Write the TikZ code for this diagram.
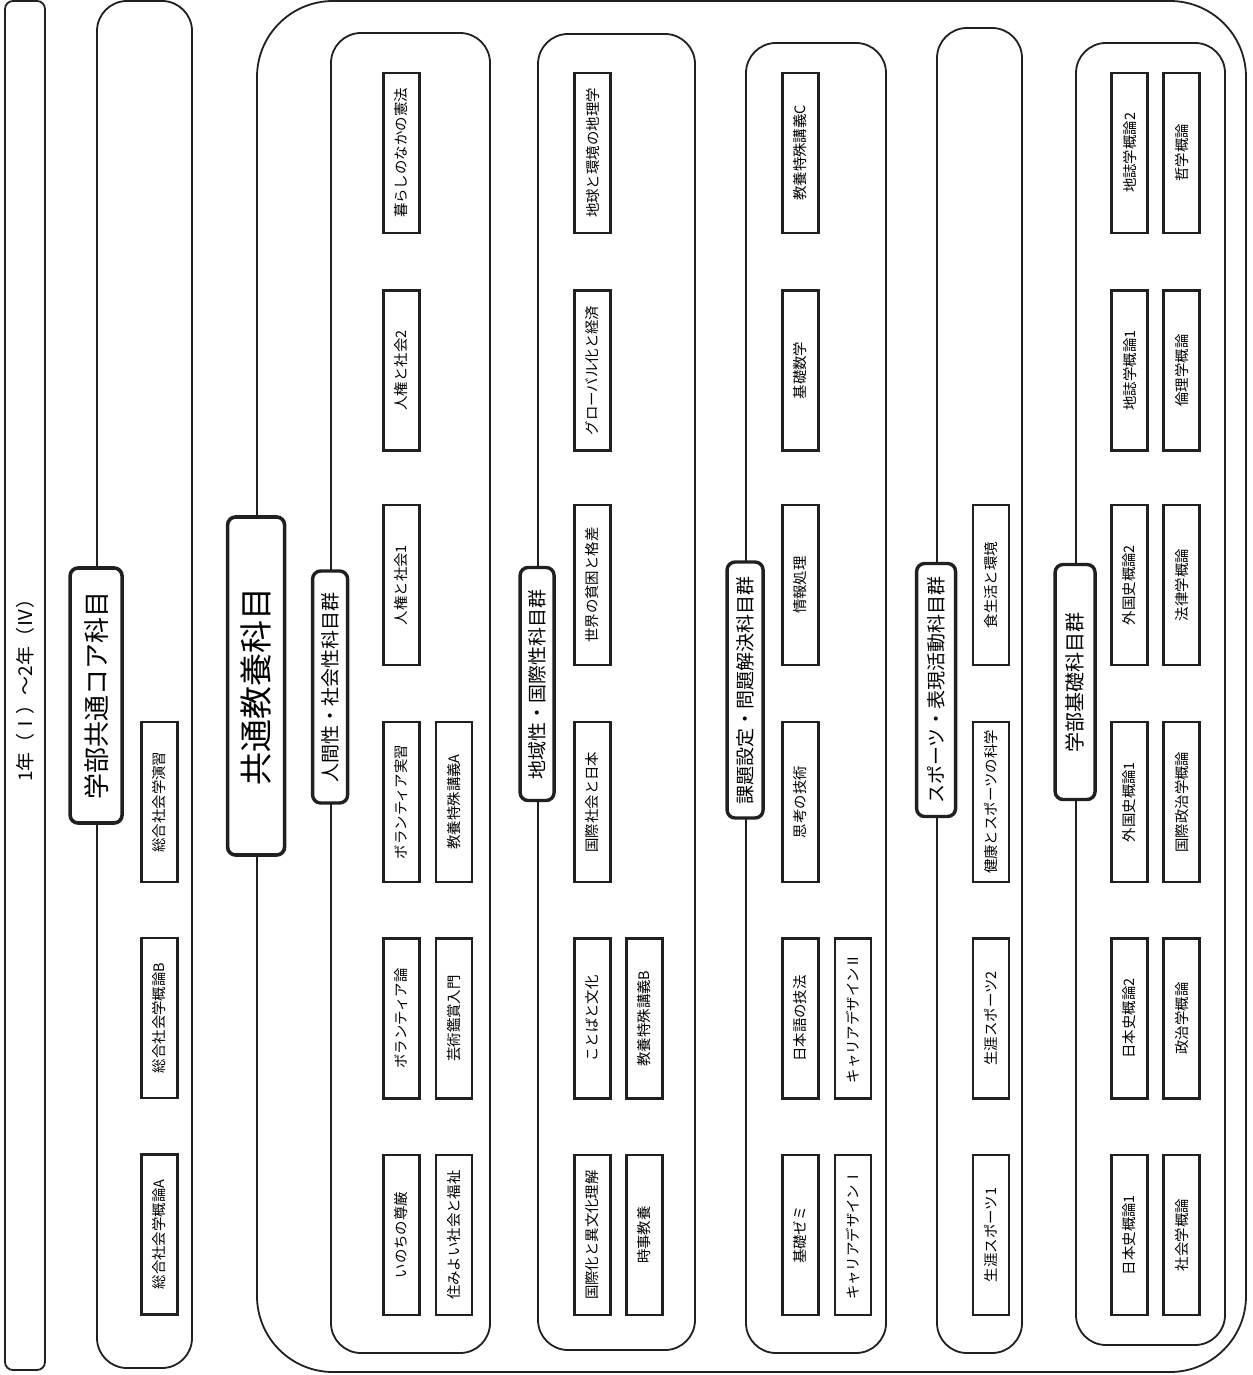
\documentclass[tikz,border=0pt]{standalone}
\usepackage{fontspec}
\usepackage{xcolor}
\usepackage{tikz}
\newfontfamily\jpfont{Noto Sans CJK JP}
\definecolor{CurInk}{HTML}{231F20}

\begin{document}
\begin{tikzpicture}[x=0.5pt,y=-0.5pt,
  band/.style={draw=CurInk,line width=0.9pt,inner sep=0pt},
  grp/.style={band,rounded corners=15pt},
  hd/.style={draw=CurInk,fill=white,line width=1.7pt,rounded corners=4pt,rotate=90,inner sep=0pt,font=\jpfont\fontsize{9.5}{10}\selectfont},
  subj/.style={draw=CurInk,fill=white,line width=1.3pt,rotate=90,inner sep=0pt,minimum width=80pt,minimum height=18pt,font=\jpfont\fontsize{7.2}{8}\selectfont}
]
\useasboundingbox (0,0) rectangle (1252,1375);

\node[band,rounded corners=4pt,rotate=90,minimum width=684.5pt,minimum height=20pt,font=\jpfont\fontsize{9.5}{10}\selectfont] (period) at (25,685.5) {1年（Ⅰ）～2年（Ⅳ）};
\node[grp,minimum width=47.5pt,minimum height=683.5pt] (coreband) at (144.5,684.5) {};
\node[grp,rounded corners=38pt,minimum width=494.5pt,minimum height=685.5pt] (edu) at (751.5,686.5) {};
\node[grp,minimum width=79.5pt,minimum height=660pt] (human) at (410.5,693) {};
\node[grp,minimum width=78.5pt,minimum height=658pt] (region) at (616.5,692) {};
\node[grp,minimum width=70pt,minimum height=655pt] (problem) at (816,698) {};
\node[grp,minimum width=42.5pt,minimum height=662.5pt] (sports) at (979.5,690.5) {};
\node[grp,minimum width=74.5pt,minimum height=651pt] (faculty) at (1150.5,694) {};

\node[hd,line width=1.8pt,minimum width=127.5pt,minimum height=26pt,font=\jpfont\fontsize{13}{14}\selectfont] (coreh) at (coreband.west |- 0,695.5) {学部共通コア科目};
\node[hd,line width=1.8pt,minimum width=169pt,minimum height=28.5pt,font=\jpfont\fontsize{16.5}{18}\selectfont] (eduh) at (edu.west |- 0,686) {共通教養科目};
\node[hd,minimum width=116pt,minimum height=17.5pt] (humanh) at (human.west |- 0,687) {人間性・社会性科目群};
\node[hd,minimum width=116.5pt,minimum height=17pt] (regionh) at (region.west |- 0,684) {地域性・国際性科目群};
\node[hd,minimum width=128pt,minimum height=18pt] (problemh) at (problem.west |- 0,690) {課題設定・問題解決科目群};
\node[hd,minimum width=126.5pt,minimum height=19.5pt] (sportsh) at (sports.west |- 0,690) {スポーツ・表現活動科目群};
\node[hd,minimum width=117.5pt,minimum height=20pt,font=\jpfont\fontsize{10}{11}\selectfont] (facultyh) at (faculty.west |- 0,682) {学部基礎科目群};

\node[subj] (sogoen) at (159.5,802) {総合社会学演習};
\node[subj] (sogoB) at (159.5,1018) {総合社会学概論B};
\node[subj] (sogoA) at (159.5,1234.5) {総合社会学概論A};

\node[subj] (kenpo) at (401.5,153) {暮らしのなかの憲法};
\node[subj] (jinken2) at (401.5,370.5) {人権と社会2};
\node[subj] (jinken1) at (401.5,585) {人権と社会1};
\node[subj] (volprac) at (401.5,802) {ボランティア実習};
\node[subj] (tokuA) at (454,802) {教養特殊講義A};
\node[subj] (volron) at (401.5,1018.5) {ボランティア論};
\node[subj] (geijutsu) at (454,1018.5) {芸術鑑賞入門};
\node[subj] (inochi) at (401.5,1235) {いのちの尊厳};
\node[subj] (fukushi) at (454,1235) {住みよい社会と福祉};

\node[subj] (chiri) at (592.5,153) {地球と環境の地理学};
\node[subj] (global) at (592.5,370.5) {グローバル化と経済};
\node[subj] (hinkon) at (592.5,585) {世界の貧困と格差};
\node[subj] (kokusai) at (592.5,802) {国際社会と日本};
\node[subj] (kotoba) at (592.5,1018.5) {ことばと文化};
\node[subj] (tokuB) at (644.5,1018.5) {教養特殊講義B};
\node[subj] (ibunka) at (592.5,1235) {国際化と異文化理解};
\node[subj] (jiji) at (644.5,1235) {時事教養};

\node[subj] (tokuC) at (800.5,153) {教養特殊講義C};
\node[subj] (sugaku) at (800.5,370.5) {基礎数学};
\node[subj] (joho) at (800.5,585) {情報処理};
\node[subj] (shiko) at (800.5,802) {思考の技術};
\node[subj] (nihongo) at (800.5,1018.5) {日本語の技法};
\node[subj] (career2) at (853,1018.5) {キャリアデザインⅡ};
\node[subj] (zemi) at (800.5,1235) {基礎ゼミ};
\node[subj] (career1) at (853,1235) {キャリアデザインⅠ};

\node[subj] (shoku) at (991,585) {食生活と環境};
\node[subj] (kenko) at (991,802) {健康とスポーツの科学};
\node[subj] (shogai2) at (991,1018.5) {生涯スポーツ2};
\node[subj] (shogai1) at (991,1235) {生涯スポーツ1};

\node[subj] (chishi2) at (1129.5,153) {地誌学概論2};
\node[subj] (tetsu) at (1181.5,153) {哲学概論};
\node[subj] (chishi1) at (1129.5,370.5) {地誌学概論1};
\node[subj] (rinri) at (1181.5,370.5) {倫理学概論};
\node[subj] (gaikoku2) at (1129.5,585) {外国史概論2};
\node[subj] (horitsu) at (1181.5,585) {法律学概論};
\node[subj] (gaikoku1) at (1129.5,802) {外国史概論1};
\node[subj] (kokuseiji) at (1181.5,802) {国際政治学概論};
\node[subj] (nihonshi2) at (1129.5,1018.5) {日本史概論2};
\node[subj] (seiji) at (1181.5,1018.5) {政治学概論};
\node[subj] (nihonshi1) at (1129.5,1235) {日本史概論1};
\node[subj] (shakai) at (1181.5,1235) {社会学概論};
\end{tikzpicture}
\end{document}
